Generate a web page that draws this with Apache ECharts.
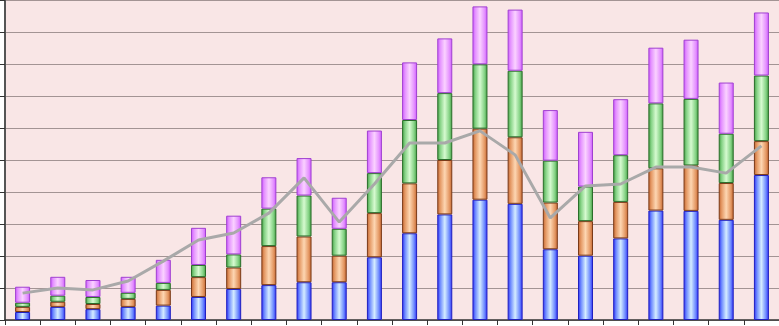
<!DOCTYPE html>
<html>
<head>
<meta charset="utf-8">
<style>
  html, body { margin: 0; padding: 0; background: #ffffff; }
  #chart { width: 779px; height: 326px; }
</style>
<script src="https://cdn.jsdelivr.net/npm/echarts@6/dist/echarts.min.js"></script>
</head>
<body>
<div id="chart"></div>
<script>
  // data (no labels visible, scale 0..100)
  var categories = ['1','2','3','4','5','6','7','8','9','10','11','12','13','14','15','16','17','18','19','20','21','22'];
  var blueData   = [2.5, 4.1, 3.4, 4.1, 4.5, 7.2, 9.7, 10.9, 11.8, 11.8, 19.6, 27.1, 33.0, 37.6, 36.3, 22.1, 20.1, 25.5, 34.2, 34.1, 31.3, 45.3];
  var orangeData = [1.6, 1.6, 1.6, 2.5, 4.9, 6.2, 6.7, 12.2, 14.3, 8.3, 13.8, 15.6, 17.0, 22.2, 20.8, 14.6, 10.8, 11.4, 13.2, 14.2, 11.5, 10.6];
  var greenData  = [1.3, 1.9, 2.2, 1.9, 2.2, 3.8, 4.1, 11.7, 12.8, 8.4, 12.5, 19.8, 20.9, 20.1, 20.8, 13.1, 10.8, 14.6, 20.3, 20.8, 15.4, 20.5];
  var purpleData = [5.0, 5.9, 5.3, 5.0, 7.2, 11.6, 12.1, 9.8, 11.7, 9.7, 13.3, 18.0, 17.1, 18.1, 19.1, 15.8, 17.1, 17.5, 17.4, 18.5, 16.0, 19.7];
  var lineData   = [8.4, 10.0, 9.4, 12.2, 18.4, 25.0, 27.2, 33.4, 44.4, 30.6, 42.5, 55.3, 55.3, 59.1, 51.6, 31.9, 41.9, 42.5, 47.8, 47.8, 45.9, 54.4];

  function tube(edge, mid, center) {
    return new echarts.graphic.LinearGradient(0, 0, 1, 0, [
      { offset: 0, color: edge },
      { offset: 0.2, color: mid },
      { offset: 0.5, color: center },
      { offset: 0.8, color: mid },
      { offset: 1, color: edge }
    ]);
  }

  function barSeries(name, data, edge, mid, center, border) {
    return {
      name: name,
      type: 'bar',
      stack: 'total',
      barWidth: 15,
      data: data,
      itemStyle: {
        color: tube(edge, mid, center),
        borderColor: border,
        borderWidth: 1
      },
      silent: true
    };
  }

  var chart = echarts.init(document.getElementById('chart'));
  chart.setOption({
    animation: false,
    grid: {
      left: 5, right: 0, top: 0, bottom: 6,
      show: true,
      backgroundColor: '#f9e6e6',
      borderWidth: 0
    },
    xAxis: {
      type: 'category',
      data: categories,
      boundaryGap: true,
      axisLine: { lineStyle: { color: '#333333', width: 1.5 } },
      axisTick: { show: true, length: 5, lineStyle: { color: '#333333' } },
      axisLabel: { show: false },
      splitLine: { show: false }
    },
    yAxis: {
      type: 'value',
      min: 0,
      max: 100,
      interval: 10,
      axisLine: { show: true, lineStyle: { color: '#555555', width: 2 } },
      axisTick: { show: true, length: 5, lineStyle: { color: '#333333' } },
      axisLabel: { show: false },
      splitLine: { show: true, lineStyle: { color: '#a39494', width: 1 } }
    },
    series: [
      barSeries('blue', blueData, '#2a2af5', '#6f8cff', '#d4ecff', '#2020c0'),
      barSeries('orange', orangeData, '#c2632e', '#e59a66', '#fdd6b2', '#7a3a18'),
      barSeries('green', greenData, '#3f9a3f', '#86d386', '#d6fad0', '#2a6e2a'),
      barSeries('purple', purpleData, '#cc55ff', '#e594ff', '#fad2ff', '#a040d0'),
      {
        name: 'line',
        type: 'line',
        data: lineData,
        symbol: 'none',
        smooth: false,
        lineStyle: { color: '#a9a9a9', width: 3 },
        z: 5,
        silent: true
      }
    ]
  });
</script>
</body>
</html>
